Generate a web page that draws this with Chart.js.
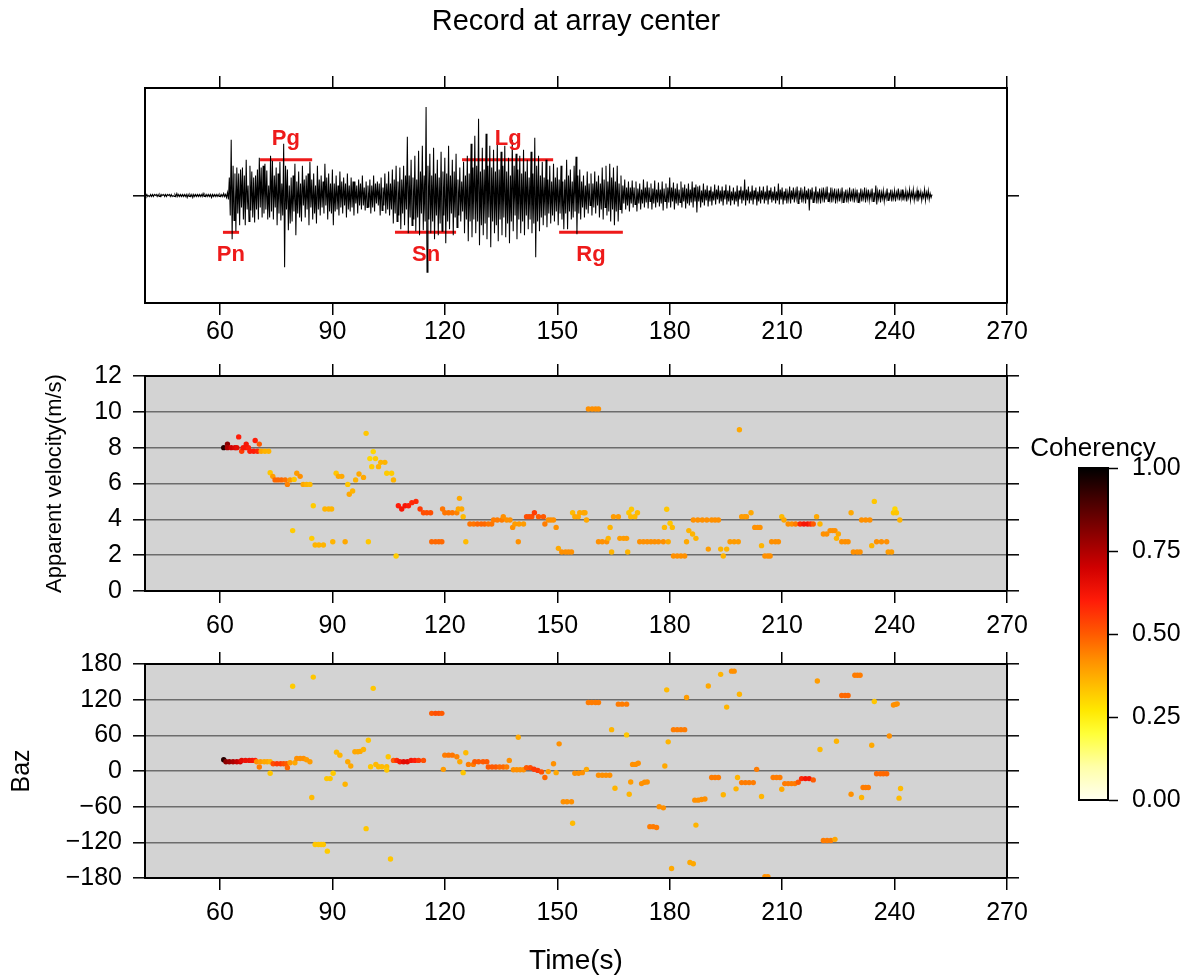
<!DOCTYPE html>
<html><head><meta charset="utf-8">
<script src="https://cdn.jsdelivr.net/npm/chart.js@4.4.1/dist/chart.umd.min.js"></script>
<style>
html,body{margin:0;padding:0;background:#fff;}
#wrap{position:relative;width:1198px;height:978px;overflow:hidden;background:#fff;}
canvas{position:absolute;top:0;left:0;}
</style></head><body>
<div id="wrap">
<canvas id="c1" width="1198" height="978"></canvas>
<canvas id="c2" width="1198" height="978"></canvas>
<canvas id="c3" width="1198" height="978"></canvas>
<canvas id="c4" width="210" height="978" style="left:988px"></canvas>
</div>
<script>
// ---------------- data ----------------
const timeTicks = [60, 90, 120, 150, 180, 210, 240, 270];
const velTicks = [0, 2, 4, 6, 8, 10, 12];
const bazTicks = [-180, -120, -60, 0, 60, 120, 180];
const cohTicks = [0, 0.25, 0.5, 0.75, 1];

// seismogram at array center, one sample every 0.25 s starting at 40 s (20 samples per row = 5 s)
const traceStart = 40;
const traceStep = 0.25;
const traceAmp = [
 1,-1,1,-1,0,-1,1,-1,1,-1,1,0,1,-1,1,-1,1,-1,1,0,              // 40
 1,-1,1,-1,1,0,1,-1,1,-1,0,-1,1,-1,2,-1,1,-1,1,-1,             // 45
 1,-1,1,-1,1,-2,1,-1,1,-1,1,-2,1,-1,1,-1,1,-1,1,-1,            // 50
 1,-1,2,-1,1,-1,1,-1,1,-1,1,-2,1,-1,1,-1,1,-1,1,-1,            // 55
 1,-1,1,-1,2,-1,1,-2,3,-4,18,-20,56,-44,30,-25,22,-36,28,-18,  // 60
 22,-30,26,-12,28,-24,20,-30,36,-14,10,-26,30,-15,24,-22,18,-27,20,-14, // 65
 26,-24,38,-12,28,-22,30,-18,32,-14,25,-24,10,-22,40,-16,35,-24,20,-12, // 70
 28,-30,22,-18,34,-25,12,-20,52,-72,30,-14,26,-35,10,-28,18,-26,20,-16, // 75
 32,-40,14,-18,24,-22,12,-26,30,-10,16,-22,20,-14,22,-30,34,-12,16,-24, // 80
 22,-18,10,-28,30,-14,16,-20,20,-12,14,-18,32,-10,18,-24,22,-16,12,-18, // 85
 26,-30,12,-16,20,-14,10,-20,24,-12,14,-18,18,-10,12,-22,22,-14,10,-16, // 90
 18,-12,14,-20,14,-8,10,-18,16,-10,12,-14,20,-10,8,-15,14,-12,10,-12,   // 95
 16,-18,10,-12,20,-16,12,-8,14,-10,12,-20,18,-15,8,-10,22,-18,12,-14,   // 100
 24,-20,12,-14,26,-28,16,-18,30,-26,14,-20,28,-34,16,-18,30,-30,20,-14, // 105
 59,-38,20,-22,36,-30,18,-24,40,-36,16,-22,45,-40,24,-18,50,-35,20,-26, // 110
 89,-77,30,-24,42,-38,20,-26,48,-44,22,-20,36,-40,18,-28,44,-36,24,-20, // 115
 38,-48,22,-26,50,-34,20,-18,36,-40,24,-22,42,-32,16,-20,28,-26,14,-16, // 120
 34,-38,20,-24,40,-46,22,-26,52,-42,28,-24,60,-38,30,-26,77,-50,24,-30, // 125
 48,-40,26,-28,62,-44,30,-22,50,-52,28,-26,46,-38,24,-30,54,-46,26,-24, // 130
 44,-40,30,-22,50,-42,24,-28,38,-48,20,-26,56,-36,30,-20,42,-44,26,-24, // 135
 40,-38,22,-26,46,-40,24,-20,36,-34,18,-24,44,-38,22,-28,58,-62,30,-26, // 140
 40,-36,20,-22,34,-30,18,-20,36,-32,16,-18,30,-28,14,-20,32,-26,18,-16, // 145
 28,-30,16,-18,30,-24,14,-34,16,-18,36,-34,20,-16,26,-24,14,-22,30,-16, // 150
 39,-39,20,-18,26,-24,14,-12,20,-22,10,-14,24,-18,12,-10,22,-20,12,-12, // 155
 24,-18,14,-10,20,-22,12,-14,28,-24,16,-12,30,-20,14,-16,32,-26,18,-14, // 160
 28,-30,14,-16,30,-26,12,-14,20,-18,10,-8,16,-14,8,-10,14,-16,8,-8,     // 165
 15,-12,8,-9,14,-16,7,-8,12,-14,6,-8,16,-12,8,-7,14,-13,8,-6,           // 170
 12,-14,7,-8,15,-12,6,-7,13,-11,6,-8,14,-15,7,-6,12,-13,8,-7,           // 175
 18,-12,8,-6,13,-14,7,-8,12,-10,6,-7,14,-12,8,-6,11,-13,7,-8,           // 180
 12,-10,6,-7,14,-12,8,-6,11,-17,9,-6,10,-12,5,-7,12,-10,6,-5,           // 185
 10,-11,5,-6,9,-10,4,-5,11,-9,6,-4,10,-8,5,-6,9,-10,5,-4,               // 190
 11,-9,5,-6,10,-10,4,-5,8,-9,4,-6,10,-11,5,-4,9,-8,5,-5,                // 195
 16,-10,6,-5,9,-8,4,-5,10,-9,5,-4,8,-10,4,-6,9,-8,5,-4,                 // 200
 9,-8,4,-5,10,-9,5,-4,8,-7,4,-5,9,-8,4,-5,12,-9,6,-4,                   // 205
 8,-9,4,-5,7,-8,3,-4,9,-8,5,-4,8,-7,4,-3,9,-8,5,-4,                     // 210
 8,-7,3,-4,9,-8,5,-4,7,-15,6,-4,8,-7,4,-3,9,-8,4,-4,                    // 215
 7,-8,4,-3,8,-7,4,-4,9,-6,3,-4,8,-7,4,-3,7,-8,3,-4,                     // 220
 7,-6,3,-4,8,-7,4,-3,6,-7,3,-4,8,-6,3,-3,7,-7,4,-3,                     // 225
 6,-7,3,-4,7,-6,3,-3,8,-7,4,-3,6,-5,3,-3,7,-6,3,-3,                     // 230
 10,-9,4,-3,6,-7,3,-3,5,-6,2,-3,7,-5,3,-2,6,-6,3,-3,                    // 235
 5,-6,3,-2,7,-5,3,-3,6,-5,2,-3,5,-6,3,-2,6,-5,3,-2,                     // 240
 6,-5,2,-3,5,-6,3,-2,4,-5,2,-2,6,-5,3,-2,5,-4,2,-2,                     // 245
 1                                                                      // 250
];

// phase windows marked on the record
const phaseNames = ['Pn', 'Pg', 'Sn', 'Lg', 'Rg'];
const phaseStart = [60.8, 70.7, 106.7, 124.6, 150.5];
const phaseEnd   = [65.1, 84.6, 123.0, 148.9, 167.5];
const phaseLevel = [-37, 36, -37, 36, -37];
const phaseLabelT = [62.9, 77.6, 115.0, 136.9, 159.0];
const phaseLabelY = [-60, 57, -60, 57, -60];

// apparent velocity picks: [time s, velocity, coherency]
const velocityPts = [
[61,8.0,0.95],[62,8.2,0.8],[62,8.0,0.75],[63,8.0,0.7],[64,8.0,0.68],[64.5,8.0,0.66],
[65,8.6,0.6],[65.8,7.8,0.55],[66.2,8.0,0.62],[67,8.0,0.62],[67.6,8.0,0.6],[67,8.2,0.62],
[68,7.8,0.6],[69,7.8,0.6],[70,7.8,0.58],[69.4,8.4,0.6],[70.5,8.2,0.5],
[71,7.8,0.38],[72,7.8,0.36],[73,7.8,0.36],
[73.4,6.6,0.33],[74.1,6.4,0.4],[74.7,6.2,0.48],[75.5,6.2,0.48],[76.4,6.2,0.48],[77.4,6.2,0.46],[78,5.95,0.44],[78.7,6.2,0.4],[79.8,6.23,0.33],[79.4,3.37,0.32],[80.5,6.57,0.4],[81.4,6.4,0.42],[82.2,5.95,0.38],[83.1,5.95,0.36],[84,5.95,0.35],
[84.9,4.76,0.32],[84.5,2.94,0.32],[85.4,2.57,0.36],[86.4,2.57,0.36],[87.6,2.57,0.36],
[88,4.58,0.36],[89,4.58,0.36],[89.8,4.58,0.36],[90.1,2.75,0.36],
[91,6.57,0.33],[91.6,6.4,0.38],[92.5,6.4,0.38],[93.4,2.75,0.38],[94.1,5.95,0.33],[94.5,5.4,0.38],[95.4,5.58,0.36],[96.2,6.2,0.36],[97.1,6.53,0.38],[98.3,6.34,0.38],[99,8.8,0.33],[99.6,2.75,0.33],[100,7.39,0.3],[100.9,7.78,0.3],[100.5,6.94,0.32],[101.5,7.39,0.32],[102.3,6.94,0.36],[102.9,7.18,0.36],[104,7.18,0.36],[104.5,6.57,0.32],[105.8,6.57,0.32],[106.3,6.2,0.36],[107,1.95,0.32],
[107.6,4.76,0.6],[108.5,4.58,0.62],[109.4,4.76,0.62],[110.3,4.76,0.6],[111.2,4.93,0.58],[112.3,5.0,0.58],[113.4,4.58,0.55],[114.3,4.37,0.52],[115.2,4.37,0.52],[116.2,4.37,0.52],
[116.5,2.75,0.48],[117.5,2.75,0.48],[118.4,2.75,0.48],[119.2,2.75,0.48],[119.4,4.58,0.46],[120,4.37,0.46],[121,4.37,0.46],[122,4.37,0.46],[123.2,4.37,0.44],[123.9,5.17,0.38],[123.6,4.58,0.38],[124.5,4.58,0.38],[124.9,4.15,0.35],[125.6,2.75,0.35],
[126.7,3.74,0.46],[127.7,3.74,0.46],[128.7,3.74,0.48],[129.7,3.74,0.48],[130.6,3.74,0.48],[131.6,3.74,0.46],[132.5,3.74,0.46],[133,3.96,0.45],[134,3.96,0.45],[135.2,3.96,0.45],[135.6,4.15,0.42],[136.5,3.96,0.42],[137.4,3.96,0.42],[138.1,3.55,0.42],[138.7,3.74,0.4],[139.8,3.74,0.4],[141,3.74,0.4],[139.6,2.75,0.42],
[141.8,4.15,0.52],[142.5,4.15,0.52],[143.2,4.15,0.52],[143.9,4.37,0.55],[145,4.15,0.5],[146.3,4.15,0.5],[146.7,3.74,0.45],[147.6,3.96,0.42],[148.3,3.96,0.42],[149,3.96,0.42],[149.7,3.55,0.42],[150.3,2.38,0.38],[151.2,2.18,0.42],[152.2,2.18,0.42],[153,2.18,0.42],[153.8,2.18,0.42],
[154.1,4.37,0.35],[154.7,4.15,0.38],[155.6,4.15,0.38],[156,4.37,0.38],[157,4.37,0.38],[157.4,4.37,0.38],[157.8,3.96,0.38],
[158.3,10.16,0.42],[159.3,10.16,0.42],[160.2,10.16,0.42],[161,10.16,0.42],
[161,2.75,0.42],[162,2.75,0.42],[163.2,2.75,0.42],[163.6,2.94,0.36],[164.1,3.55,0.36],[164.5,2.18,0.36],[165,4.15,0.4],[166.3,4.15,0.4],[166.7,2.94,0.4],[167.7,2.94,0.4],[168.5,2.94,0.4],[168.8,2.18,0.36],[169.1,4.37,0.33],[169.8,4.56,0.33],[169.6,4.15,0.35],[170.7,4.15,0.35],[171.4,4.37,0.35],
[172,2.75,0.42],[173,2.75,0.42],[174,2.75,0.42],[175,2.75,0.42],[176,2.75,0.42],[177,2.75,0.42],[178.3,2.75,0.42],[178.6,3.55,0.35],[179.2,4.56,0.33],[179.6,2.75,0.38],[180.1,3.78,0.33],[180.7,3.55,0.35],
[181,1.95,0.42],[182,1.95,0.42],[183,1.95,0.42],[184,1.95,0.42],[184.5,2.75,0.38],[185.1,3.37,0.36],[186.1,3.18,0.36],[187,2.94,0.36],[186.3,3.96,0.42],[187.5,3.96,0.42],[188.7,3.96,0.42],[189.9,3.96,0.42],[190.3,2.34,0.4],[191.2,3.96,0.42],[192.1,3.96,0.42],[193,3.96,0.42],[193.6,2.34,0.36],[194.3,1.95,0.36],[195.2,2.34,0.36],[196.1,2.75,0.4],[197.2,2.75,0.4],[198.3,2.75,0.4],[198.6,9.0,0.38],
[199.2,4.15,0.4],[200,4.15,0.4],[200.5,4.15,0.4],[201.7,4.37,0.38],[202.7,3.55,0.42],[203.5,3.55,0.42],[204.1,3.55,0.42],[204.5,2.53,0.36],[205.4,1.95,0.42],[206.2,1.95,0.42],[206.8,1.95,0.42],[207.2,2.75,0.42],[208.2,2.75,0.42],[209,2.75,0.42],[209.9,4.15,0.35],[210.5,3.96,0.38],
[211.6,3.74,0.42],[212.6,3.74,0.42],[213.6,3.74,0.45],[214.8,3.74,0.58],[215.8,3.74,0.62],[216.8,3.74,0.62],[217.6,3.74,0.58],[218.3,3.74,0.5],[219.2,4.15,0.38],[220.1,3.74,0.36],[221,3.18,0.42],[221.9,3.18,0.42],[222.8,3.37,0.42],[223.5,3.37,0.42],[224.1,3.37,0.42],[224.5,2.94,0.36],[225,3.18,0.38],[225.9,2.75,0.42],[226.8,2.75,0.42],[227.6,2.75,0.42],[228.4,4.37,0.38],[229,2.18,0.42],[230,2.18,0.42],[230.8,2.18,0.42],[231.2,3.96,0.42],[232.3,3.96,0.42],[233.4,3.96,0.42],[233.9,2.53,0.36],[234.6,5.0,0.33],[235.2,2.75,0.42],[236.5,2.75,0.42],[237.9,2.75,0.42],[238.3,2.18,0.4],[239.2,2.18,0.4],[239.7,4.37,0.33],[240.1,4.58,0.3],[240.5,4.37,0.33],[241.4,3.96,0.36]
];

// back-azimuth picks: [time s, baz deg, coherency]
const bazPts = [
[61,19,0.95],[61.6,15.6,0.8],[62.5,15.6,0.78],[63.5,15.6,0.75],[64.5,15.6,0.72],[65.4,15.6,0.7],[65.8,17.8,0.66],[66.8,17.8,0.64],[67.8,17.8,0.64],[68.6,17.8,0.62],[69.4,17.8,0.6],[70.5,6.7,0.45],[69.8,15.6,0.42],[70.8,15.6,0.4],[71.8,15.6,0.38],[72.6,15.6,0.38],[73.4,15.6,0.36],[73.4,-3.9,0.33],[74.2,12.3,0.52],[75.2,12.3,0.55],[76.2,12.3,0.55],[77,12.3,0.52],[77.8,12.3,0.5],[78,5.6,0.48],[79.4,142.6,0.32],[78.7,14,0.4],[80,14,0.38],[80.5,21,0.42],[81.4,21,0.42],[82.3,21,0.42],[83.1,19,0.4],[84,15.6,0.4],[84.5,-44.6,0.35],[84.9,158,0.33],[85.4,-123.6,0.33],[86.3,-123.6,0.33],[87,-123.6,0.33],[87.6,-123.6,0.33],[88.65,-134.8,0.32],[88.5,-12.8,0.33],[89.4,-12.8,0.33],[90.2,-3.9,0.32],[91.1,31.7,0.35],[92,26.7,0.36],[93.4,-22.3,0.36],[94.1,15.6,0.38],[94.9,8.4,0.38],[96,32.3,0.38],[96.8,32.3,0.38],[97.4,33,0.38],[98.3,36.2,0.36],[99.6,51.8,0.33],[99,-97,0.33],[100.2,7.2,0.33],[100.9,139,0.33],[101.6,11.1,0.35],[102.3,7.2,0.35],[103.2,7.2,0.35],[104.5,7.2,0.35],[104.5,1.7,0.33],[104.9,24,0.33],[105.5,-148,0.33],
[106.3,17.8,0.5],[107.2,17.8,0.58],[108,15.6,0.62],[109,15.6,0.66],[110,15.6,0.66],[111,17.8,0.62],[112,17.8,0.6],[113,17.8,0.56],[114.3,17.8,0.52],
[116.5,97,0.5],[117.5,97,0.52],[118.4,97,0.52],[119.2,97,0.5],[119.6,2.8,0.4],[120,26.7,0.45],[121,26.7,0.46],[122,26.7,0.46],[123.2,24,0.44],[124,15.6,0.38],[124.9,-2.8,0.33],[125.6,30.6,0.35],[126.3,11.1,0.45],[127.6,11.1,0.45],[128,15.6,0.5],[129,15.6,0.5],[130.2,15.6,0.5],[131.2,15.6,0.5],[131.6,6.7,0.5],[132.6,6.7,0.5],[133.6,6.7,0.5],[134.6,6.7,0.48],[135.6,6.7,0.48],[136.5,6.7,0.45],[137.2,17.8,0.42],[138.3,2.2,0.42],[139.2,2.2,0.42],[140.1,2.2,0.42],[141,2.2,0.42],[139.6,56.8,0.38],[141.8,5.6,0.5],[142.8,5.6,0.52],[143.8,3.0,0.55],[144.8,1.0,0.55],[145.8,-1.5,0.52],[146.7,-11,0.48],[147.6,-1,0.4],[149,12.3,0.42],[149.7,-2.8,0.38],[150.5,45.7,0.42],[151.6,-51.8,0.42],[152.6,-51.8,0.42],[153.8,-51.8,0.42],[154.1,-88,0.35],[154.7,-3.9,0.42],[155.7,-3.9,0.42],[156.7,-2.8,0.42],[157.8,2.8,0.38],
[158.3,115.3,0.45],[159.2,115.3,0.45],[160.2,115.3,0.45],[161,115.3,0.45],[161,-7.2,0.42],[162,-7.2,0.42],[163,-7.2,0.42],[164,-7.2,0.42],[164.5,69.6,0.36],[165.4,-29,0.36],[166.3,112.5,0.45],[167.3,112.5,0.45],[168.5,112.5,0.45],[168.5,60.7,0.33],[169.2,-39,0.36],[169.6,-18.4,0.4],[170.1,11.1,0.42],[170.9,11.1,0.42],[171.6,13,0.42],[172.5,-21.2,0.42],[173.3,-19,0.42],[174,-18.4,0.42],[174.7,-93.6,0.45],[175.6,-93.6,0.45],[176.5,-95,0.45],[177.2,-60,0.42],[178.3,-62,0.42],[178.7,8.4,0.38],[179.2,136.5,0.35],[179.6,49,0.36],[180.5,-164,0.38],[181,69.6,0.45],[182,69.6,0.45],[183,69.6,0.45],[184,69.6,0.45],[184.5,123.6,0.4],[185.4,-154,0.38],[186.3,-156,0.38],[186.7,-49,0.42],[187.6,-49,0.42],[188.5,-48,0.42],[189.4,-47,0.42],[187,-91,0.36],[190.3,143,0.38],[191.2,-11,0.45],[192.1,-11,0.45],[193,-11,0.45],[193.6,162.6,0.36],[194.3,-40,0.36],[195.2,107.5,0.36],[196.5,168,0.42],[197.2,168,0.42],[197.7,-30,0.36],[198.1,-11,0.36],[198.6,129,0.36],[199.2,-19.5,0.45],[200.2,-19.5,0.45],[201.2,-19.5,0.45],[202.3,-19.5,0.45],[203.2,2.8,0.45],[204.5,-43,0.36],[205.4,-178,0.42],[206.2,-178,0.42],
[207.6,-11,0.45],[208.5,-11,0.45],[209.4,-11,0.45],[209.9,-30.6,0.38],[210.7,-21.2,0.45],[211.6,-21.2,0.45],[212.5,-21.2,0.45],[213.4,-21.2,0.45],[214.3,-19,0.5],[215.2,-12.8,0.58],[216.2,-12.8,0.62],[217.2,-12.8,0.62],[218.3,-15,0.5],[219.4,151.5,0.4],[220.1,36.2,0.35],[221,-117,0.45],[222,-117,0.45],[223,-117,0.45],[224.1,-115,0.38],[224.5,50,0.36],[225.9,127,0.48],[226.8,127,0.48],[227.6,127,0.48],[228.4,-39,0.42],[229.4,161,0.45],[230.1,161,0.45],[230.8,161,0.45],[231.2,-44.6,0.36],[231.6,-27.8,0.45],[232.3,-27.8,0.45],[233,-27.8,0.45],[233.9,43.4,0.38],[234.6,117,0.33],[235.2,-4.5,0.48],[236.2,-4.5,0.48],[237,-4.5,0.48],[237.9,-4.5,0.48],[238.6,59,0.42],[239.7,111,0.42],[240.2,112,0.42],[240.7,113,0.42],[241.2,-45.7,0.35],[241.6,-29.5,0.35]
];

// colour map for coherency (white - yellow - orange - red - black)
const cmapStops = [[0,'#fffff0'],[0.1,'#ffffa8'],[0.2,'#ffff38'],[0.27,'#ffe800'],[0.34,'#ffc000'],[0.42,'#ff9000'],[0.5,'#ff5a00'],[0.6,'#ff1c08'],[0.7,'#d00000'],[0.8,'#8c0000'],[0.9,'#480000'],[1,'#000000']];

// ---------------- helpers ----------------
const FONT = "'Liberation Sans', Arial, Helvetica, sans-serif";
Chart.defaults.font.family = FONT;
Chart.defaults.color = '#000';

function hexRgb(h){return [parseInt(h.slice(1,3),16),parseInt(h.slice(3,5),16),parseInt(h.slice(5,7),16)];}
function cmap(c){
  c = Math.max(0, Math.min(1, c));
  for (let i = 1; i < cmapStops.length; i++) {
    const p1 = cmapStops[i-1][0], p2 = cmapStops[i][0];
    if (c <= p2) {
      const f = (c - p1) / (p2 - p1), A = hexRgb(cmapStops[i-1][1]), B = hexRgb(cmapStops[i][1]);
      return 'rgb(' + A.map((v,k) => Math.round(v + (B[k]-v)*f)).join(',') + ')';
    }
  }
  return cmapStops[cmapStops.length-1][1];
}
const setTicks = arr => s => { s.ticks = arr.map(v => ({value: v})); };
const minus = v => String(v).replace('-', '\u2212');

const bgPlugin = {
  id: 'panelBg',
  beforeDraw(chart, args, opts) {
    if (!opts || !opts.color) return;
    const a = chart.chartArea, c = chart.ctx;
    c.save(); c.fillStyle = opts.color; c.fillRect(a.left, a.top, a.right - a.left, a.bottom - a.top); c.restore();
  }
};
const phaseLabelPlugin = {
  id: 'phaseLabels',
  afterDatasetsDraw(chart, args, opts) {
    if (!opts || !opts.show) return;
    const c = chart.ctx, xs = chart.scales.x, ys = chart.scales.y;
    c.save();
    c.font = 'bold 22px ' + FONT; c.fillStyle = '#ee1a1a'; c.textAlign = 'center'; c.textBaseline = 'middle';
    phaseNames.forEach((n, i) => c.fillText(n, xs.getPixelForValue(phaseLabelT[i]), ys.getPixelForValue(phaseLabelY[i])));
    c.restore();
  }
};

function hAxis(pos, labels, pad, height) {
  return {
    type: 'linear', position: pos, min: 40, max: 270,
    afterBuildTicks: setTicks(timeTicks),
    afterFit: s => { s.height = height; },
    ticks: {display: labels, padding: pad, font: {size: 25}, color: '#000', maxRotation: 0, autoSkip: false},
    grid: {drawOnChartArea: false, drawTicks: true, tickLength: 12, tickColor: '#000', tickWidth: 1.5, color: '#000', lineWidth: 1.5},
    border: {display: true, color: '#000', width: 2, z: 1}
  };
}
function vAxis(pos, min, max, ticks, width, labels, gridOn, extra) {
  const n = ticks.length;
  const ax = {
    type: 'linear', position: pos, min: min, max: max,
    afterBuildTicks: setTicks(ticks),
    afterFit: s => { s.width = width; },
    ticks: {display: labels, padding: 11, font: {size: 25}, color: '#000', callback: v => minus(v)},
    grid: {drawOnChartArea: gridOn, drawTicks: true, tickLength: 12, tickColor: '#000', tickWidth: 1.5,
           lineWidth: 1.6, color: ctx => (ctx.index === 0 || ctx.index === n - 1) ? 'rgba(0,0,0,0)' : '#6c6c6c'},
    border: {display: true, color: '#000', width: 2, z: 1}
  };
  return Object.assign(ax, extra || {});
}
const baseOpts = {responsive: false, animation: false, events: [], devicePixelRatio: 1, layout: {padding: 0}};

// ---------------- chart 1: record ----------------
const traceData = traceAmp.map((a, i) => ({x: traceStart + i * traceStep, y: a}));
const phaseSets = phaseNames.map((n, i) => ({
  type: 'line', label: n, data: [{x: phaseStart[i], y: phaseLevel[i]}, {x: phaseEnd[i], y: phaseLevel[i]}],
  borderColor: '#ee1a1a', borderWidth: 3, pointRadius: 0, borderCapStyle: 'butt'
}));
const TITLE_SIZE = 29, TITLE_LH = TITLE_SIZE * 1.2, TITLE_PAD = 22 - TITLE_LH / 2;
new Chart(document.getElementById('c1'), {
  type: 'line',
  data: {datasets: [{label: 'record', data: traceData, borderColor: '#000', borderWidth: 1.05, pointRadius: 0, tension: 0}].concat(phaseSets)},
  options: Object.assign({}, baseOpts, {
    plugins: {legend: {display: false}, tooltip: {enabled: false},
      title: {display: true, text: 'Record at array center', fullSize: false, color: '#000',
              font: {size: TITLE_SIZE, weight: 'normal'}, padding: {top: TITLE_PAD, bottom: 0}},
      phaseLabels: {show: true}},
    scales: {
      x: hAxis('bottom', true, 2.3, 978 - 303),
      x2: hAxis('top', false, 0, 88 - TITLE_PAD - TITLE_LH),
      y: vAxis('left', -108, 108, [0], 145, false, false),
      y2: vAxis('right', -108, 108, [0], 1198 - 1007, false, false)
    }
  }),
  plugins: [phaseLabelPlugin]
});

// ---------------- chart 2: apparent velocity ----------------
new Chart(document.getElementById('c2'), {
  type: 'scatter',
  data: {datasets: [{label: 'velocity', data: velocityPts.map(p => ({x: p[0], y: p[1]})),
    pointBackgroundColor: velocityPts.map(p => cmap(p[2])), pointBorderWidth: 0, pointRadius: 2.7}]},
  options: Object.assign({}, baseOpts, {
    plugins: {legend: {display: false}, tooltip: {enabled: false}, panelBg: {color: '#d3d3d3'}},
    scales: {
      x: hAxis('bottom', true, 8, 978 - 591),
      x2: hAxis('top', false, 0, 376),
      y: vAxis('left', 0, 12, velTicks, 145, true, true,
        {title: {display: true, text: 'Apparent velocity(m/s)', color: '#000', font: {size: 22}, padding: {top: 41.8, bottom: 0}}}),
      y2: vAxis('right', 0, 12, velTicks, 1198 - 1007, false, false)
    }
  }),
  plugins: [bgPlugin]
});

// ---------------- chart 3: back azimuth ----------------
const x3 = hAxis('bottom', true, 8, 978 - 878);
x3.title = {display: true, text: 'Time(s)', color: '#000', font: {size: 28}, padding: {top: 0, bottom: 0}};
new Chart(document.getElementById('c3'), {
  type: 'scatter',
  data: {datasets: [{label: 'baz', data: bazPts.map(p => ({x: p[0], y: p[1]})),
    pointBackgroundColor: bazPts.map(p => cmap(p[2])), pointBorderWidth: 0, pointRadius: 2.7}]},
  options: Object.assign({}, baseOpts, {
    plugins: {legend: {display: false}, tooltip: {enabled: false}, panelBg: {color: '#d3d3d3'}},
    scales: {
      x: x3,
      x2: hAxis('top', false, 0, 664),
      y: vAxis('left', -180, 180, bazTicks, 145, true, true,
        {title: {display: true, text: 'Baz', color: '#000', font: {size: 25}, padding: {top: 7, bottom: 0}}}),
      y2: vAxis('right', -180, 180, bazTicks, 1198 - 1007, false, false)
    }
  }),
  plugins: [bgPlugin]
});

// ---------------- chart 4: coherency colour bar ----------------
function barGradient(chart) {
  const a = chart.chartArea;
  if (!a) return '#ff9000';
  const g = chart.ctx.createLinearGradient(0, a.bottom, 0, a.top);
  cmapStops.forEach(s => g.addColorStop(s[0], s[1]));
  return g;
}
const CB_SIZE = 26, CB_LH = CB_SIZE * 1.2, CB_TPAD = 449 - CB_LH / 2;
const cbH = {type: 'category', ticks: {display: false}, grid: {display: false}, border: {display: true, color: '#000', width: 2, z: 1}};
new Chart(document.getElementById('c4'), {
  type: 'bar',
  data: {labels: ['coh'], datasets: [{label: 'Coherency', data: [[0, 1]], backgroundColor: ctx => barGradient(ctx.chart),
    borderWidth: 0, barPercentage: 1, categoryPercentage: 1, yAxisID: 'y', xAxisID: 'x'}]},
  options: Object.assign({}, baseOpts, {
    plugins: {legend: {display: false}, tooltip: {enabled: false},
      title: {display: true, text: 'Coherency', color: '#000', font: {size: CB_SIZE, weight: 'normal'}, padding: {top: CB_TPAD, bottom: 0}}},
    scales: {
      x: Object.assign({}, cbH, {position: 'bottom', afterFit: s => { s.height = 978 - 800; }}),
      x2: Object.assign({}, cbH, {position: 'top', afterFit: s => { s.height = 468 - CB_TPAD - CB_LH; }}),
      yL: {type: 'linear', position: 'left', min: 0, max: 1, ticks: {display: false}, grid: {display: false},
           border: {display: true, color: '#000', width: 2, z: 1}, afterFit: s => { s.width = 91; }},
      y: {type: 'linear', position: 'right', min: 0, max: 1, afterBuildTicks: setTicks(cohTicks),
          afterFit: s => { s.width = 90; },
          ticks: {padding: 14, font: {size: 25}, color: '#000', callback: v => Number(v).toFixed(2)},
          grid: {drawOnChartArea: false, drawTicks: true, tickLength: 10, tickColor: '#000', tickWidth: 1.5},
          border: {display: true, color: '#000', width: 2, z: 1}}
    }
  })
});
</script>
</body></html>
